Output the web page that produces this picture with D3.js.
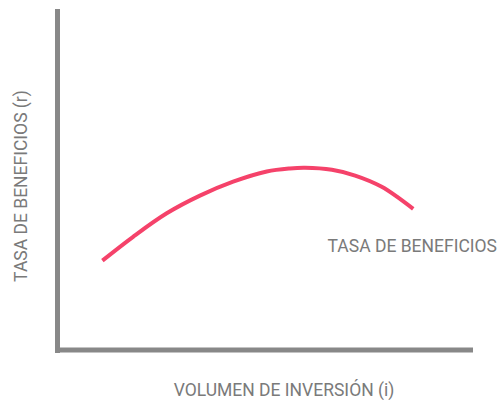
<!DOCTYPE html>
<html>
<head>
<meta charset="utf-8">
<script src="https://cdn.jsdelivr.net/npm/d3@7"></script>
<style>
  html, body { margin: 0; padding: 0; background: #fff; }
  svg { display: block; }
</style>
</head>
<body>
<svg id="chart" width="500" height="400"></svg>
<script>
// Investment volume (i) against profit rate (r), arbitrary units
const volumen = [1.07, 1.81, 2.62, 3.42, 4.22, 5.03, 5.59, 5.95, 6.60, 7.16, 7.80, 8.56];
const tasa    = [2.63, 3.33, 4.02, 4.54, 4.95, 5.25, 5.34, 5.36, 5.30, 5.13, 4.80, 4.15];
const serieLabel = "TASA DE BENEFICIOS";
const xLabel = "VOLUMEN DE INVERSIÓN (i)";
const yLabel = "TASA DE BENEFICIOS (r)";

const svg = d3.select("#chart");
const axisColor = "#888888";
const textColor = "#7a7a7a";
const lineColor = "#f5426a";

const x = d3.scaleLinear().domain([0, 10]).range([58, 473]);
const y = d3.scaleLinear().domain([0, 10]).range([350, 10]);

// Axes drawn as plain thick strokes, no ticks
const xAxis = d3.axisBottom(x).tickValues([]).tickSizeOuter(0);
const yAxis = d3.axisLeft(y).tickValues([]).tickSizeOuter(0);

svg.append("g")
  .attr("transform", `translate(0,${y(0)})`)
  .call(xAxis)
  .call(g => g.select(".domain")
    .attr("stroke", axisColor).attr("stroke-width", 5)
    .attr("d", `M${x(0) - 3},0H${x(10)}`));

svg.append("g")
  .attr("transform", `translate(${x(0)},0)`)
  .call(yAxis)
  .call(g => g.select(".domain")
    .attr("stroke", axisColor).attr("stroke-width", 5)
    .attr("d", `M-0.5,${y(10) - 1}V${y(0) + 3}`));

const data = volumen.map((v, i) => ({ v, r: tasa[i] }));

const line = d3.line()
  .x(d => x(d.v))
  .y(d => y(d.r))
  .curve(d3.curveCatmullRom.alpha(0.5));

svg.append("path")
  .datum(data)
  .attr("fill", "none")
  .attr("stroke", lineColor)
  .attr("stroke-width", 4)
  .attr("d", line);

const font = "Roboto, 'Noto Sans', sans-serif";

svg.append("text")
  .attr("x", 497).attr("y", 252)
  .attr("text-anchor", "end")
  .attr("font-family", font).attr("font-size", 17.5)
  .attr("fill", textColor)
  .text(serieLabel);

svg.append("text")
  .attr("x", 284).attr("y", 396)
  .attr("text-anchor", "middle")
  .attr("font-family", font).attr("font-size", 17.5)
  .attr("fill", textColor)
  .text(xLabel);

svg.append("text")
  .attr("transform", "translate(27,186) rotate(-90)")
  .attr("text-anchor", "middle")
  .attr("font-family", font).attr("font-size", 17.5)
  .attr("fill", textColor)
  .text(yLabel);
</script>
</body>
</html>
